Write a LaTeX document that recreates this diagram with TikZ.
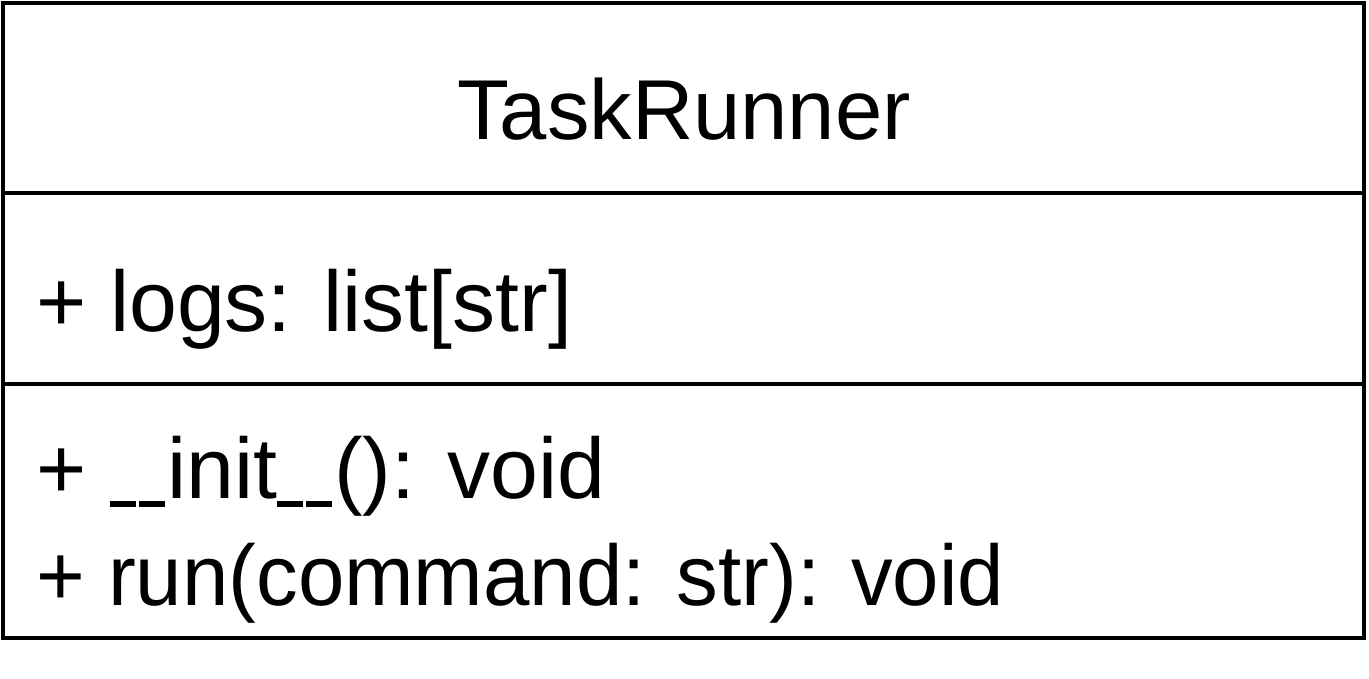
\documentclass[tikz,border=0pt]{standalone}
\usepackage{fontspec}
\setmainfont{Liberation Sans}
\newfontfamily\boxfont{Liberation Sans}
\newfontfamily\boxfontn[FakeStretch=0.97]{Liberation Sans}
\newcommand{\usc}{\rule[-9pt]{26pt}{6pt}\kern2.5pt}
\begin{document}
\begin{tikzpicture}[x=1pt,y=-1pt,
  frame/.style={draw=black,line width=4pt},
  umltext/.style={inner sep=0pt,font=\boxfont\fontsize{86}{100}\selectfont},
  umltextn/.style={inner sep=0pt,font=\boxfontn\fontsize{86}{100}\selectfont},
  titletext/.style={inner sep=0pt,font=\fontsize{85}{100}\selectfont}]
\useasboundingbox (0,0) rectangle (1369,679);
\draw[frame] (3,3) rectangle (1364,638);
\draw[frame] (3,193) -- (1364,193);
\draw[frame] (3,384) -- (1364,384);
\node[titletext,anchor=base] (title) at (684,140) {TaskRunner};
\node[umltext,anchor=base west] (attr) at (36,331) {+ logs: list[str]};
\node[umltext,anchor=base west] (op1) at (36,498) {+ \usc\usc init\usc\usc(): void};
\node[umltextn,anchor=base west] (op2) at (36,605) {+ run(command: str): void};
\end{tikzpicture}
\end{document}
